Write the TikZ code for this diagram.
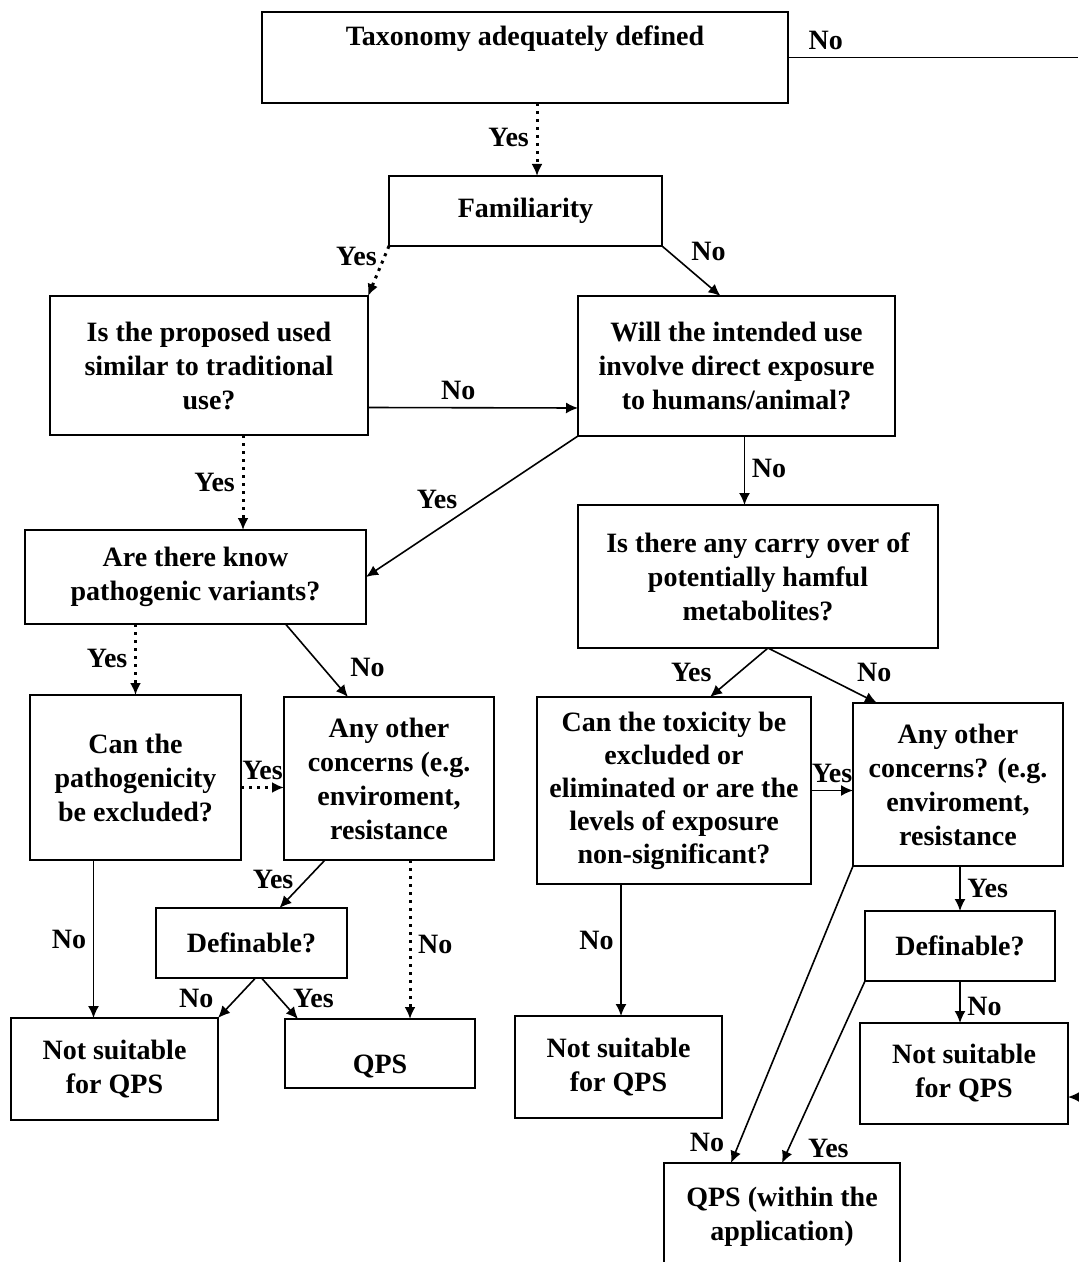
\documentclass[tikz,border=0pt]{standalone}
\usepackage{fontspec}
\setmainfont{Liberation Serif}
\usetikzlibrary{arrows.meta}

\begin{document}
\begin{tikzpicture}[x=0.5pt,y=-0.5pt,
    font=\bfseries\fontsize{14}{17}\selectfont,
    box/.style={draw, line width=1pt, align=center, inner sep=0pt, outer sep=0pt},
    dotline/.style={line width=1.5pt, dash pattern=on 1.5pt off 2.5pt},
    >={Latex[length=6pt,width=5.5pt]}]
    \useasboundingbox (0,0) rectangle (1078,1262);
    \node[box, minimum width=263pt, text height=17pt, text depth=28.5pt] (tax) at (525,57.5) {Taxonomy adequately defined};
    \node[box, minimum width=136.5pt, minimum height=35pt] (fam) at (525.5,211) {Familiarity};
    \node[box, minimum width=159pt, minimum height=69.5pt] (trad) at (209,365.5) {Is the proposed used\\similar to traditional\\use?};
    \node[box, minimum width=158.5pt, minimum height=70pt] (expo) at (736.5,366) {Will the intended use\\involve direct exposure\\to humans/animal?};
    \node[box, minimum width=170.5pt, minimum height=47pt] (path) at (195.5,577) {Are there know\\pathogenic variants?};
    \node[box, minimum width=180pt, minimum height=71.5pt] (carry) at (758,576.5) {Is there any carry over of\\potentially hamful\\metabolites?};
    \node[box, minimum width=105.5pt, minimum height=82.5pt] (excl) at (135.5,777.5) {Can the\\pathogenicity\\be excluded?};
    \node[box, minimum width=105pt, minimum height=81.5pt] (conc) at (389,778.5) {Any other\\concerns (e.g.\\enviroment,\\resistance};
    \node[box, minimum width=95.5pt, minimum height=35pt] (defl) at (251.5,943) {Definable?};
    \node[box, minimum width=103.5pt, minimum height=51pt] (notl) at (114.5,1069) {Not suitable\\for QPS};
    \node[box, minimum width=95pt, text height=27pt, text depth=7.5pt] (qpsl) at (380,1053.5) {QPS};
    \node[box, minimum width=137pt, minimum height=93.5pt, font=\bfseries\fontsize{14}{16.5}\selectfont] (tox) at (674,790.5) {Can the toxicity be\\excluded or\\eliminated or are the\\levels of exposure\\non-significant?};
    \node[box, minimum width=105pt, minimum height=81.5pt] (concr) at (958,784.5) {Any other\\concerns? (e.g.\\enviroment,\\resistance};
    \node[box, minimum width=95pt, minimum height=35pt] (defr) at (960,946) {Definable?};
    \node[box, minimum width=103.5pt, minimum height=51pt] (notm) at (618.5,1067) {Not suitable\\for QPS};
    \node[box, minimum width=104pt, minimum height=50.5pt] (notr) at (964,1073.5) {Not suitable\\for QPS};
    \node[box, minimum width=118pt, minimum height=53.5pt] (qpsa) at (782,1216.5) {QPS (within the\\application)};
    \coordinate (taxend) at (1078,57.5);
    \coordinate (notrin) at (1078,1097);
    \draw[line width=0.8pt] (tax.east) -- node[pos=0.13, above] {No} (taxend);
    \begin{scope}[->, line width=0.8pt]
      \draw[dotline] ([xshift=6pt]tax.south) -- node[pos=0.47, left] {Yes} ([xshift=6pt]tax.south |- fam.north);
      \draw[dotline] (fam.south west) -- node[pos=0.2, left] {Yes} (trad.north east);
      \draw (fam.south east) -- node[pos=0.1, right=8pt] {No} ([xshift=-8pt]expo.north);
      \draw ([yshift=-21pt]trad.east) -- node[pos=0.43, above] {No} ([yshift=-21pt]expo.west);
      \draw[dotline] ([xshift=17pt]trad.south) -- node[left] {Yes} ([xshift=17pt]trad.south |- path.north);
      \draw (expo.south west) -- node[pos=0.665, above=7pt] {Yes} (path.east);
      \draw ([xshift=4pt]expo.south) -- node[pos=0.47, right] {No} ([xshift=4pt]expo.south |- carry.north);
      \draw[dotline] (excl.north |- path.south) -- node[pos=0.48, left] {Yes} (excl.north);
      \draw ([xshift=45pt]path.south) -- node[pos=0.6, right=10pt] {No} ([xshift=-20.5pt]conc.north);
      \draw[dotline] ([yshift=-5pt]excl.east) -- node[above] {Yes} ([yshift=-5pt]excl.east -| conc.west);
      \draw ([xshift=-21pt]excl.south) -- node[left] {No} ([xshift=-21pt]excl.south |- notl.north);
      \draw ([xshift=-32pt]conc.south) -- node[pos=0.4, left=3pt] {Yes} ([xshift=14pt]defl.north);
      \draw[dotline] ([xshift=10.5pt]conc.south) -- node[pos=0.53, right] {No} ([xshift=10.5pt]conc.south |- qpsl.north);
      \draw ([xshift=2pt]defl.south) -- node[left=8pt] {No} (notl.north east);
      \draw ([xshift=5pt]defl.south) -- node[right=3pt] {Yes} ([xshift=-41pt]qpsl.north);
      \draw ([xshift=5pt]carry.south) -- node[left=10pt] {Yes} ([xshift=18pt]tox.north);
      \draw ([xshift=5pt]carry.south) -- node[pos=0.75, above right] {No} ([xshift=-40.5pt]concr.north);
      \draw (tox.east) -- node[above] {Yes} (tox.east -| concr.west);
      \draw ([xshift=-26.5pt]tox.south) -- node[pos=0.43, left] {No} ([xshift=-26.5pt]tox.south |- notm.north);
      \draw (defr.north |- concr.south) -- node[right] {Yes} (defr.north);
      \draw (defr.south) -- node[pos=0.6, right=0pt] {No} (defr.south |- notr.north);
      \draw (concr.south west) -- node[pos=0.93, left=4pt] {No} ([xshift=-25.5pt]qpsa.north);
      \draw (defr.south west) -- node[pos=0.92, right=6pt] {Yes} (qpsa.north);
      \draw (notrin) -- (notrin -| notr.east);
    \end{scope}
\end{tikzpicture}
\end{document}
